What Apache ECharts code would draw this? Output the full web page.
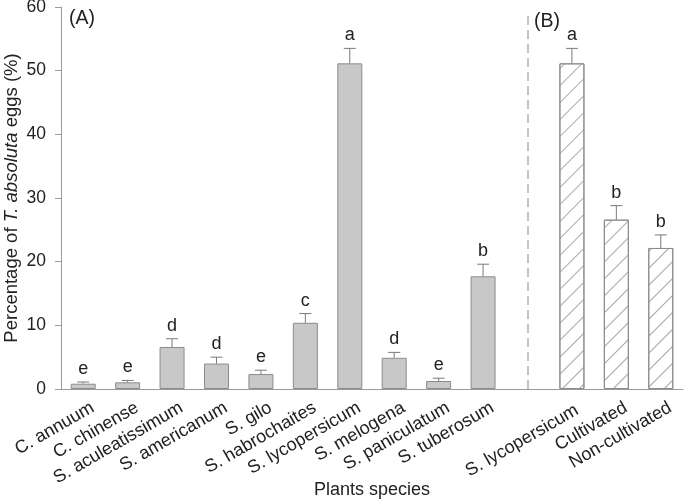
<!DOCTYPE html>
<html>
<head>
<meta charset="utf-8">
<script src="https://cdn.jsdelivr.net/npm/echarts@6/dist/echarts.min.js"></script>
<style>html,body{margin:0;padding:0;background:#fff;}#c{width:685px;height:503px;}</style>
</head>
<body>
<div id="c"></div>
<script>
// Categories (index 10 is an empty spacer between panel A and panel B)
const categories = ['C. annuum','C. chinense','S. aculeatissimum','S. americanum','S. gilo','S. habrochaites','S. lycopersicum','S. melogena','S. paniculatum','S. tuberosum','','S. lycopersicum ','Cultivated','Non-cultivated'];
const means = [0.83, 1.05, 6.6, 4.0, 2.35, 10.4, 51.15, 4.9, 1.25, 17.7, null, 51.15, 26.6, 22.15];
const upperErr = [1.1, 1.35, 7.9, 5.0, 2.95, 11.85, 53.5, 5.75, 1.7, 19.6, null, 53.5, 28.8, 24.2];
const letters = ['e','e','d','d','e','c','a','d','e','b','','a','b','b'];
const panelB = [false,false,false,false,false,false,false,false,false,false,false,true,true,true];
const yTicks = [0, 10, 20, 30, 40, 50, 60];

const FONT = '"Liberation Sans", Arial, sans-serif';
const chart = echarts.init(document.getElementById('c'));

const barData = means.map((v, i) => {
  if (v === null) return null;
  if (panelB[i]) {
    return {
      value: v,
      itemStyle: {
        color: '#ffffff',
        borderColor: '#8c8c8c',
        borderWidth: 1,
        decal: {
          symbol: 'rect',
          symbolSize: 1,
          dashArrayX: [[1, 0]],
          dashArrayY: [1, 11],
          rotation: -Math.PI / 4,
          color: '#a8a8a8'
        }
      }
    };
  }
  return { value: v };
});

const errData = means.map((v, i) => v === null ? null : [i, upperErr[i], v, letters[i]]).filter(d => d);

chart.setOption({
  animation: false,
  textStyle: { fontFamily: FONT },
  grid: { left: 61, right: 2, top: 7, bottom: 114, containLabel: false, outerBoundsMode: 'none' },
  xAxis: {
    type: 'category',
    data: categories,
    name: 'Plants species',
    nameLocation: 'middle',
    nameGap: 92,
    nameMoveOverlap: false,
    nameTextStyle: { fontSize: 18, color: '#222', fontFamily: FONT },
    axisLine: { lineStyle: { color: '#9a9a9a', width: 1 } },
    axisTick: { alignWithLabel: true, length: 6, lineStyle: { color: '#9a9a9a' } },
    axisLabel: {
      rotate: 30, fontSize: 18, color: '#222', margin: 1, interval: 0, fontFamily: FONT,
      align: 'right', verticalAlign: 'top', padding: [10, 0, 0, 0]
    }
  },
  yAxis: {
    type: 'value',
    min: yTicks[0],
    max: yTicks[yTicks.length - 1],
    interval: 10,
    name: 'Percentage of {i|T. absoluta} eggs (%)',
    nameLocation: 'middle',
    nameGap: 40,
    nameMoveOverlap: false,
    nameTextStyle: {
      fontSize: 18.5, color: '#222', fontFamily: FONT,
      rich: { i: { fontStyle: 'italic', fontSize: 18.5, color: '#222', fontFamily: FONT } }
    },
    splitLine: { show: false },
    axisLine: { show: true, lineStyle: { color: '#9a9a9a', width: 1 } },
    axisTick: { show: true, length: 6, lineStyle: { color: '#9a9a9a' } },
    axisLabel: { fontSize: 17.5, color: '#222', margin: 15, fontFamily: FONT }
  },
  series: [
    {
      type: 'bar',
      data: barData,
      barWidth: 25,
      itemStyle: { color: '#c8c8c8', borderColor: '#8c8c8c', borderWidth: 1 },
      markLine: {
        silent: true,
        symbol: 'none',
        label: { show: false },
        lineStyle: { color: '#b0b0b0', type: [9, 5], width: 1.5 },
        data: [[{ coord: [10, 0] }, { coord: [10, 59] }]]
      },
      z: 2
    },
    {
      type: 'custom',
      data: errData,
      encode: { x: 0, y: 1 },
      z: 3,
      renderItem: function (params, api) {
        const idx = api.value(0);
        const top = api.coord([idx, api.value(1)]);
        const base = api.coord([idx, api.value(2)]);
        const letter = errData[params.dataIndex][3];
        const half = 6;
        const st = { stroke: '#7a7a7a', lineWidth: 1 };
        return {
          type: 'group',
          children: [
            { type: 'line', shape: { x1: top[0], y1: top[1], x2: base[0], y2: base[1] }, style: st },
            { type: 'line', shape: { x1: top[0] - half, y1: top[1], x2: top[0] + half, y2: top[1] }, style: st },
            { type: 'text', x: top[0], y: top[1] - 4, style: { text: letter, fill: '#222', font: '18px ' + FONT, textAlign: 'center', textVerticalAlign: 'bottom' } }
          ]
        };
      }
    }
  ],
  graphic: [
    { type: 'text', left: 69, top: 9, style: { text: '(A)', fill: '#222', font: '19.5px ' + FONT } },
    { type: 'text', left: 534, top: 12, style: { text: '(B)', fill: '#222', font: '19.5px ' + FONT } }
  ]
});
</script>
</body>
</html>
